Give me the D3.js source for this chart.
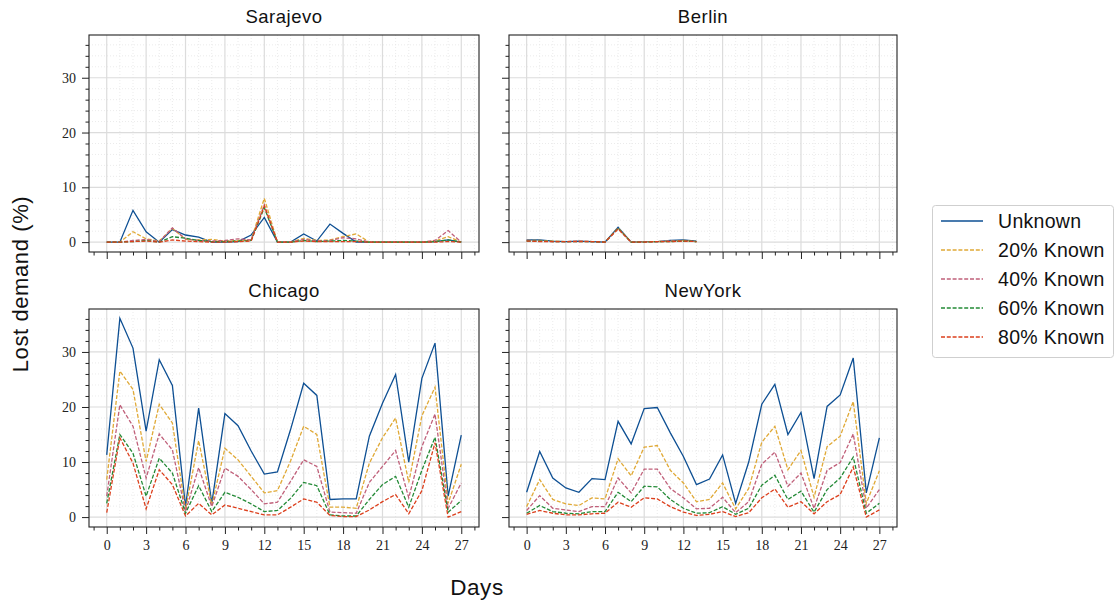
<!DOCTYPE html>
<html>
<head>
<meta charset="utf-8">
<script src="https://cdn.jsdelivr.net/npm/d3@7"></script>
<style>
  body { margin: 0; background: #fff; }
  svg { display: block; }
</style>
</head>
<body>
<div id="chart"></div>
<script>
// data
const cities = ["Sarajevo", "Berlin", "Chicago", "NewYork"];
const seriesNames = ["Unknown", "20% Known", "40% Known", "60% Known", "80% Known"];
const seriesColors = ["#0d4f93", "#e0a936", "#c0607a", "#238a36", "#dc3f1c"];
const xTicks = [0, 3, 6, 9, 12, 15, 18, 21, 24, 27];
const yTicks = [0, 10, 20, 30];

const sarajevoValues = [
  [0, 0, 5.8, 1.9, 0, 2.3, 1.3, 0.9, 0, 0, 0.1, 1.3, 4.5, 0, 0, 1.5, 0.2, 3.3, 1.6, 0, 0, 0, 0, 0, 0, 0.1, 0.4, 0],
  [0, 0, 1.9, 0.6, 0.2, 2.5, 0.5, 0.4, 0.5, 0.2, 0.3, 0.4, 8.0, 0, 0, 0.7, 0.3, 0.4, 1.0, 1.5, 0, 0, 0, 0, 0, 0.2, 1.0, 0],
  [0, 0, 0.3, 0.5, 0.1, 2.6, 0.6, 0.3, 0.2, 0.3, 0.6, 0.4, 6.8, 0, 0, 0.5, 0.2, 0.3, 0.8, 0.6, 0, 0, 0, 0, 0, 0.3, 2.1, 0],
  [0, 0, 0.1, 0.3, 0, 1.0, 0.7, 0.3, 0.1, 0.1, 0.2, 0.3, 6.3, 0, 0, 0.3, 0.1, 0.2, 0.3, 0.2, 0, 0, 0, 0, 0, 0.1, 0.4, 0],
  [0, 0, 0.1, 0.2, 0, 0.4, 0.2, 0.1, 0, 0, 0.1, 0.2, 6.6, 0, 0, 0.2, 0.1, 0.1, 0.1, 0.1, 0, 0, 0, 0, 0, 0, 0.1, 0]
];

const berlinValues = [
  [0.4, 0.4, 0.2, 0.1, 0.2, 0.1, 0, 2.7, 0, 0.1, 0.1, 0.3, 0.4, 0.2],
  [0.3, 0.3, 0.2, 0.1, 0.2, 0.1, 0, 2.6, 0, 0.1, 0.1, 0.2, 0.3, 0.1],
  [0.3, 0.2, 0.1, 0.1, 0.2, 0.1, 0, 2.5, 0, 0.1, 0.1, 0.2, 0.2, 0.1],
  [0.2, 0.2, 0.1, 0.1, 0.1, 0.1, 0, 2.5, 0, 0, 0.1, 0.1, 0.2, 0.1],
  [0.2, 0.1, 0.1, 0.1, 0.1, 0.1, 0, 2.4, 0, 0, 0.1, 0.1, 0.2, 0.1]
];

const chicagoValues = [
  [11.3, 36.1, 30.7, 15.6, 28.6, 23.9, 1.9, 19.8, 2.5, 18.8, 16.6, 12.0, 7.8, 8.2, 15.9, 24.3, 22.1, 3.2, 3.3, 3.3, 14.7, 20.7, 25.9, 10.0, 25.2, 31.6, 3.8, 14.9],
  [6.8, 26.5, 23.2, 10.1, 20.5, 17.1, 1.3, 13.9, 2.2, 12.5, 10.4, 7.4, 4.4, 4.8, 10.2, 16.5, 15.0, 1.8, 1.8, 1.6, 9.8, 14.4, 18.0, 6.3, 18.4, 23.6, 2.5, 9.6],
  [3.8, 20.4, 16.5, 7.1, 15.1, 12.2, 1.0, 9.0, 1.9, 8.9, 7.4, 5.0, 2.4, 2.7, 6.5, 10.4, 9.2, 0.9, 0.8, 0.7, 6.3, 9.2, 12.1, 3.5, 12.8, 18.7, 1.6, 6.2],
  [2.5, 15.0, 11.6, 3.8, 10.7, 8.0, 0.7, 5.7, 1.0, 4.5, 3.6, 2.4, 1.0, 1.2, 3.4, 6.3, 5.7, 0.4, 0.2, 0.2, 3.2, 5.9, 7.4, 1.8, 8.5, 14.5, 0.9, 3.0],
  [0.8, 14.4, 9.8, 1.5, 8.6, 5.9, 0.2, 2.5, 0.4, 2.2, 1.6, 1.0, 0.4, 0.4, 1.8, 3.3, 2.7, 0.3, 0.1, 0.1, 1.3, 2.8, 4.1, 0.6, 4.8, 13.5, 0, 1.0]
];

const newYorkValues = [
  [4.5, 11.9, 7.1, 5.3, 4.5, 7.0, 6.8, 17.4, 13.3, 19.7, 19.9, 15.3, 11.0, 5.9, 6.9, 11.3, 2.5, 10.0, 20.5, 24.1, 15.0, 19.0, 7.0, 20.1, 22.2, 28.9, 4.4, 14.4],
  [1.9, 6.8, 3.2, 2.4, 2.1, 3.5, 3.3, 10.6, 7.5, 12.7, 13.0, 8.5, 6.2, 2.8, 3.2, 6.2, 1.5, 5.2, 13.6, 16.5, 8.6, 12.1, 3.6, 12.8, 14.7, 21.0, 2.5, 8.4],
  [1.2, 3.9, 1.6, 1.3, 1.0, 1.9, 1.9, 7.1, 4.4, 8.7, 8.7, 5.2, 3.5, 1.5, 1.6, 3.6, 0.8, 2.8, 9.6, 11.8, 5.6, 8.0, 1.6, 8.5, 9.9, 15.1, 1.6, 5.0],
  [0.7, 2.1, 1.0, 0.7, 0.6, 1.0, 1.0, 4.5, 2.8, 5.6, 5.5, 3.2, 1.6, 0.7, 0.8, 1.9, 0.5, 1.6, 5.8, 7.6, 3.2, 4.7, 0.9, 5.0, 7.1, 10.9, 0.7, 2.5],
  [0.5, 1.2, 0.7, 0.4, 0.4, 0.6, 0.7, 2.7, 1.8, 3.5, 3.3, 1.9, 0.9, 0.3, 0.5, 1.0, 0.1, 0.8, 3.5, 5.1, 1.8, 2.8, 0.6, 2.8, 4.1, 9.1, 0.0, 1.3]
];

const cityValues = [sarajevoValues, berlinValues, chicagoValues, newYorkValues];

(function () {
    const width = 1117, height = 601;
    const sans = "'Liberation Sans', Arial, sans-serif";
    const serif = "'Liberation Serif', 'DejaVu Serif', serif";

    // panel boxes [left, top, right, bottom]
    const cols = [[89, 479], [509, 897]];
    const rows = [[35, 252], [309, 527]];

    let svg = d3.select("#chart")
        .append("svg")
        .attr("width", width)
        .attr("height", height);

    cities.forEach(function (city, ci) {
        let col = ci % 2, row = Math.floor(ci / 2);
        let [x0, x1] = cols[col];
        let [y0, y1] = rows[row];

        let x = d3.scaleLinear().domain([-1.35, 28.35]).range([x0, x1]);
        let y = d3.scaleLinear().domain([-1.8, 37.8]).range([y1, y0]);

        let g = svg.append("g");

        // minor grid (dotted)
        g.append("g").selectAll("line")
            .data(d3.range(0, 29).filter(d => d % 3 !== 0))
            .join("line")
            .attr("x1", d => x(d)).attr("x2", d => x(d))
            .attr("y1", y0).attr("y2", y1)
            .attr("stroke", "#e6e6e6").attr("stroke-width", 0.8)
            .attr("stroke-dasharray", "1,2");
        g.append("g").selectAll("line")
            .data(d3.range(2, 38, 2).filter(d => d % 10 !== 0))
            .join("line")
            .attr("x1", x0).attr("x2", x1)
            .attr("y1", d => y(d)).attr("y2", d => y(d))
            .attr("stroke", "#e6e6e6").attr("stroke-width", 0.8)
            .attr("stroke-dasharray", "1,2");

        // major grid
        g.append("g").selectAll("line")
            .data(xTicks)
            .join("line")
            .attr("x1", d => x(d)).attr("x2", d => x(d))
            .attr("y1", y0).attr("y2", y1)
            .attr("stroke", "#dcdcdc").attr("stroke-width", 1.2);
        g.append("g").selectAll("line")
            .data(yTicks)
            .join("line")
            .attr("x1", x0).attr("x2", x1)
            .attr("y1", d => y(d)).attr("y2", d => y(d))
            .attr("stroke", "#dcdcdc").attr("stroke-width", 1.2);

        // lines
        let values = cityValues[ci];
        let line = d3.line()
            .x((d, i) => x(i))
            .y(d => y(d));

        values.forEach(function (vals, si) {
            g.append("path")
                .datum(vals)
                .attr("d", line)
                .attr("fill", "none")
                .attr("stroke", seriesColors[si])
                .attr("stroke-width", 1.3)
                .attr("stroke-dasharray", si === 0 ? null : "4,1.8");
        });

        // frame
        g.append("rect")
            .attr("x", x0).attr("y", y0)
            .attr("width", x1 - x0).attr("height", y1 - y0)
            .attr("fill", "none")
            .attr("stroke", "#222").attr("stroke-width", 1.1);

        // x axis ticks
        let xAxis = d3.axisBottom(x)
            .tickValues(xTicks)
            .tickSize(7)
            .tickPadding(6)
            .tickFormat(row === 1 ? d3.format("d") : () => "");
        let xMinor = d3.axisBottom(x)
            .tickValues(d3.range(-1, 29).filter(d => d % 3 !== 0))
            .tickSize(3.5)
            .tickFormat(() => "");
        g.append("g").attr("transform", `translate(0, ${y1})`).call(xMinor);
        g.append("g").attr("transform", `translate(0, ${y1})`).call(xAxis);

        let yAxis = d3.axisLeft(y)
            .tickValues(yTicks)
            .tickSize(7)
            .tickPadding(6)
            .tickFormat(col === 0 ? d3.format("d") : () => "");
        let yMinor = d3.axisLeft(y)
            .tickValues(d3.range(-0, 38, 2).filter(d => d % 10 !== 0))
            .tickSize(3.5)
            .tickFormat(() => "");
        g.append("g").attr("transform", `translate(${x0}, 0)`).call(yMinor);
        g.append("g").attr("transform", `translate(${x0}, 0)`).call(yAxis);

        g.selectAll(".domain").remove();
        g.selectAll(".tick line").attr("stroke", "#222").attr("stroke-width", 1);
        g.selectAll(".tick text")
            .style("font-family", serif)
            .style("font-size", "14px")
            .attr("fill", "#222");

        // title
        g.append("text")
            .attr("x", (x0 + x1) / 2)
            .attr("y", y0 - 12)
            .attr("text-anchor", "middle")
            .style("font-family", sans)
            .style("font-size", "18.5px")
            .style("letter-spacing", "0.5px")
            .attr("fill", "#111")
            .text(city);
    });

    // axis labels
    svg.append("text")
        .attr("transform", `translate(28, 284) rotate(-90)`)
        .attr("text-anchor", "middle")
        .style("font-family", sans)
        .style("font-size", "22px")
        .style("letter-spacing", "0.6px")
        .attr("fill", "#111")
        .text("Lost demand (%)");

    svg.append("text")
        .attr("x", 477)
        .attr("y", 595)
        .attr("text-anchor", "middle")
        .style("font-family", sans)
        .style("font-size", "22.5px")
        .style("letter-spacing", "0.6px")
        .attr("fill", "#111")
        .text("Days");

    // legend
    let legend = svg.append("g");
    legend.append("rect")
        .attr("x", 932.5).attr("y", 205.5)
        .attr("width", 181).attr("height", 152)
        .attr("rx", 3)
        .attr("fill", "#fff")
        .attr("stroke", "#cfcfcf");

    seriesNames.forEach(function (name, i) {
        let ly = 221 + i * 29;
        legend.append("line")
            .attr("x1", 941).attr("x2", 983)
            .attr("y1", ly).attr("y2", ly)
            .attr("stroke", seriesColors[i])
            .attr("stroke-width", 1.3)
            .attr("stroke-dasharray", i === 0 ? null : "4,1.8");
        legend.append("text")
            .attr("x", 998)
            .attr("y", ly + 7)
            .style("font-family", sans)
            .style("font-size", "19.5px")
            .style("letter-spacing", "0.3px")
            .attr("fill", "#111")
            .text(name);
    });
})();
</script>
</body>
</html>
